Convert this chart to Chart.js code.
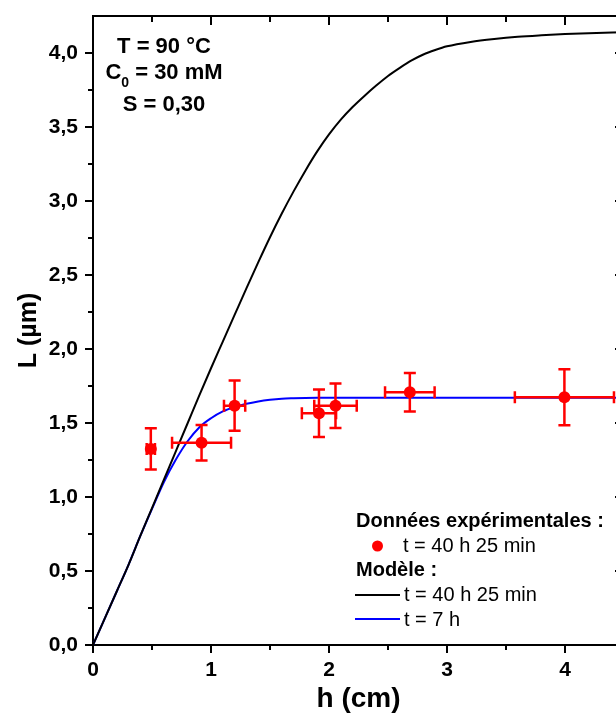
<!DOCTYPE html>
<html><head><meta charset="utf-8">
<script src="https://cdn.jsdelivr.net/npm/chart.js@4.4.0/dist/chart.umd.min.js"></script>
<style>html,body{margin:0;padding:0;overflow:hidden;background:#fff}#wrap{width:640px;height:713px}</style>
</head><body><div id="wrap"><canvas id="c" width="640" height="713"></canvas></div>
<script>
// ---- data ----
const hModel = [0,0.1,0.2,0.3,0.4,0.5,0.6,0.7,0.8,0.9,1.0,1.1,1.2,1.3,1.4,1.5,1.6,1.7,1.8,1.9,2.0,2.1,2.2,2.3,2.4,2.5,2.6,2.7,2.8,2.9,3.0,3.2,3.4,3.6,3.8,4.0,4.2,4.5];
const L40h = [0,0.18,0.36,0.54,0.735,0.925,1.115,1.305,1.495,1.685,1.87,2.05,2.23,2.41,2.585,2.755,2.915,3.065,3.205,3.335,3.45,3.55,3.635,3.71,3.78,3.845,3.90,3.95,3.99,4.02,4.045,4.075,4.095,4.11,4.12,4.128,4.134,4.14];
const L7h = [0,0.18,0.36,0.54,0.735,0.92,1.10,1.25,1.375,1.47,1.532,1.578,1.608,1.63,1.646,1.657,1.664,1.667,1.669,1.67,1.67,1.67,1.67,1.67,1.67,1.67,1.67,1.67,1.67,1.67,1.67,1.67,1.67,1.67,1.67,1.67,1.67,1.67];
const expH = [0.49,0.92,1.20,1.915,2.055,2.685,3.995];
const expL = [1.325,1.367,1.617,1.566,1.617,1.707,1.674];
const expHErr = [0.035,0.25,0.09,0.145,0.18,0.21,0.42];
const expLErr = [0.14,0.12,0.17,0.16,0.15,0.13,0.19];
const annotLines = ["T = 90 °C", "C", "0", " = 30 mM", "S = 0,30"];
const legendTitleExp = "Données expérimentales :";
const legendTitleModel = "Modèle :";
const seriesLabels = ["t = 40 h 25 min", "t = 40 h 25 min", "t = 7 h"];
const xLabel = "h (cm)";
const yLabel = "L (µm)";

const FONT = "'Liberation Sans', Arial, sans-serif";
const RED = '#ff0000', BLUE = '#0000ff', BLACK = '#000000';

const toXY = (xs, ys) => xs.map((x, i) => ({x, y: ys[i]}));

const deco = {
  id: 'deco',
  beforeDatasetDraw(chart, args) {
    if (args.index !== 0) return;
    const {ctx, scales: {x, y}} = chart;
    ctx.save();
    ctx.strokeStyle = RED; ctx.lineWidth = 2.5;
    const cap = 6;
    expH.forEach((h, i) => {
      const px = x.getPixelForValue(h), py = y.getPixelForValue(expL[i]);
      const x1 = x.getPixelForValue(h - expHErr[i]), x2 = x.getPixelForValue(h + expHErr[i]);
      const y1 = y.getPixelForValue(expL[i] + expLErr[i]), y2 = y.getPixelForValue(expL[i] - expLErr[i]);
      ctx.beginPath();
      ctx.moveTo(x1, py); ctx.lineTo(x2, py);
      ctx.moveTo(x1, py - cap); ctx.lineTo(x1, py + cap);
      ctx.moveTo(x2, py - cap); ctx.lineTo(x2, py + cap);
      ctx.moveTo(px, y1); ctx.lineTo(px, y2);
      ctx.moveTo(px - cap, y1); ctx.lineTo(px + cap, y1);
      ctx.moveTo(px - cap, y2); ctx.lineTo(px + cap, y2);
      ctx.stroke();
    });
    ctx.restore();
  },
  afterDraw(chart) {
    const {ctx, chartArea: ca, scales: {x, y}} = chart;
    ctx.save();
    ctx.strokeStyle = BLACK; ctx.lineWidth = 2;
    // top and right border
    ctx.beginPath();
    ctx.moveTo(ca.left - 1, ca.top); ctx.lineTo(ca.right + 1, ca.top);
    ctx.moveTo(ca.right, ca.top); ctx.lineTo(ca.right, ca.bottom);
    ctx.stroke();
    ctx.beginPath();
    // x ticks
    for (let v = 0; v <= x.max + 1e-9; v += 0.5) {
      const px = x.getPixelForValue(v);
      const major = Math.abs(v - Math.round(v)) < 1e-9;
      if (!major) { ctx.moveTo(px, ca.bottom); ctx.lineTo(px, ca.bottom + 5); }
      if (v > 0 && v < x.max - 1e-9) { ctx.moveTo(px, ca.top); ctx.lineTo(px, ca.top + (major ? 9 : 6)); }
    }
    // y ticks
    for (let v = 0; v <= y.max + 1e-9; v += 0.25) {
      const py = y.getPixelForValue(v);
      const major = Math.abs(v * 2 - Math.round(v * 2)) < 1e-9;
      if (v >= y.max - 1e-9) continue;
      if (!major) { ctx.moveTo(ca.left, py); ctx.lineTo(ca.left - 5, py); }
      if (v > 0) { ctx.moveTo(ca.right, py); ctx.lineTo(ca.right - (major ? 9 : 6), py); }
    }
    ctx.stroke();

    // annotation
    ctx.fillStyle = BLACK;
    ctx.textBaseline = 'alphabetic';
    ctx.font = `bold 22px ${FONT}`;
    ctx.textAlign = 'center';
    const cx = 164;
    ctx.fillText(annotLines[0], cx, 53);
    ctx.fillText(annotLines[4], cx, 111);
    ctx.textAlign = 'left';
    const wC = ctx.measureText(annotLines[1]).width;
    const wRest = ctx.measureText(annotLines[3]).width;
    ctx.font = `bold 14px ${FONT}`;
    const wSub = ctx.measureText(annotLines[2]).width;
    let sx = cx - (wC + wSub + wRest) / 2;
    ctx.font = `bold 22px ${FONT}`;
    ctx.fillText(annotLines[1], sx, 79);
    ctx.font = `bold 14px ${FONT}`;
    ctx.fillText(annotLines[2], sx + wC, 87);
    ctx.font = `bold 22px ${FONT}`;
    ctx.fillText(annotLines[3], sx + wC + wSub, 79);

    // legend
    const lx = 356;
    ctx.font = `bold 20px ${FONT}`;
    ctx.fillText(legendTitleExp, lx, 527);
    ctx.fillText(legendTitleModel, lx, 576);
    ctx.font = `20px ${FONT}`;
    ctx.fillText(seriesLabels[0], 403, 552);
    ctx.fillText(seriesLabels[1], 404, 601);
    ctx.fillText(seriesLabels[2], 404, 626);
    ctx.fillStyle = RED;
    ctx.beginPath(); ctx.arc(377.5, 546, 5.5, 0, Math.PI * 2); ctx.fill();
    ctx.lineWidth = 2;
    ctx.strokeStyle = BLACK;
    ctx.beginPath(); ctx.moveTo(355, 595); ctx.lineTo(400, 595); ctx.stroke();
    ctx.strokeStyle = BLUE;
    ctx.beginPath(); ctx.moveTo(355, 619); ctx.lineTo(400, 619); ctx.stroke();
    ctx.restore();
  }
};

new Chart(document.getElementById('c'), {
  type: 'scatter',
  data: {
    datasets: [
      { label: seriesLabels[0], data: toXY(expH, expL), backgroundColor: RED, borderColor: RED,
        pointRadius: 6, pointBorderWidth: 0, showLine: false },
      { label: seriesLabels[1], data: toXY(hModel, L40h), borderColor: BLACK, borderWidth: 2,
        showLine: true, pointRadius: 0, cubicInterpolationMode: 'monotone' },
      { label: seriesLabels[2], data: toXY(hModel, L7h), borderColor: BLUE, borderWidth: 2,
        showLine: true, pointRadius: 0, cubicInterpolationMode: 'monotone' }
    ]
  },
  options: {
    responsive: false, animation: false, devicePixelRatio: 1,
    layout: { padding: { left: 0, top: 16, right: 16, bottom: 0 } },
    plugins: { legend: { display: false }, tooltip: { enabled: false } },
    scales: {
      x: {
        type: 'linear', min: 0, max: 4.5,
        afterFit: s => { s.height = 68; s.paddingLeft = 0; s.paddingRight = 0; },
        border: { display: true, color: BLACK, width: 2 },
        grid: { display: true, drawOnChartArea: false, drawTicks: true, tickLength: 8, color: BLACK, lineWidth: 2 },
        ticks: { stepSize: 1, includeBounds: false, padding: 5, color: BLACK, maxRotation: 0,
          font: { family: FONT, size: 21, weight: 'bold' }, callback: v => String(v) },
        title: { display: true, text: xLabel, color: BLACK, padding: { top: 0, bottom: -3 },
          font: { family: FONT, size: 28, weight: 'bold' } }
      },
      y: {
        type: 'linear', min: 0, max: 4.25,
        afterFit: s => { s.width = 93; s.paddingTop = 0; s.paddingBottom = 0; },
        border: { display: true, color: BLACK, width: 2 },
        grid: { display: true, drawOnChartArea: false, drawTicks: true, tickLength: 8, color: BLACK, lineWidth: 2 },
        ticks: { stepSize: 0.5, includeBounds: false, padding: 7, color: BLACK,
          font: { family: FONT, size: 21, weight: 'bold' }, callback: v => v.toFixed(1).replace('.', ',') },
        title: { display: true, text: yLabel, color: BLACK, padding: { top: 14, bottom: 0 },
          font: { family: FONT, size: 25, weight: 'bold' } }
      }
    }
  },
  plugins: [deco]
});
</script>
</body></html>
